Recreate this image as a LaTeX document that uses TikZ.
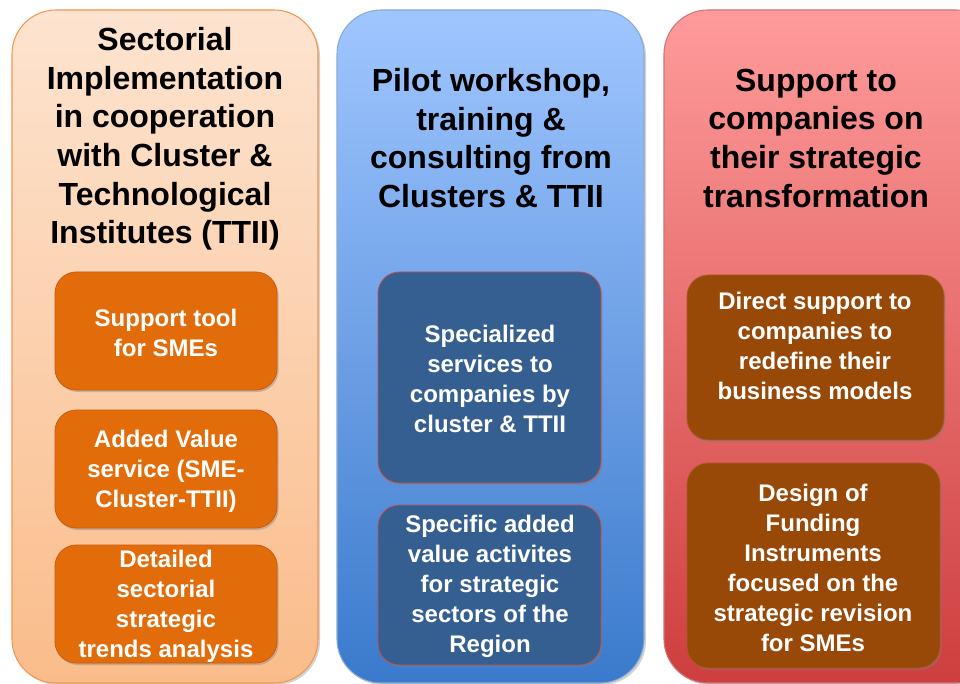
\documentclass[tikz,border=0pt]{standalone}
\usepackage{fontspec}
\setmainfont{Liberation Sans}
\usetikzlibrary{shadows}
\definecolor{lTop}{RGB}{253,228,208}
\definecolor{lBot}{RGB}{250,188,138}
\definecolor{lEdge}{RGB}{240,150,80}
\definecolor{mTop}{RGB}{160,198,255}
\definecolor{mBot}{RGB}{58,122,204}
\definecolor{mEdge}{RGB}{140,170,210}
\definecolor{rTop}{RGB}{255,155,155}
\definecolor{rBot}{RGB}{206,62,62}
\definecolor{rEdge}{RGB}{200,120,120}
\definecolor{lIn}{RGB}{227,108,10}
\definecolor{lInEdge}{RGB}{200,90,20}
\definecolor{mIn}{RGB}{54,95,145}
\definecolor{mInEdge}{RGB}{192,80,77}
\definecolor{rIn}{RGB}{152,72,7}
\definecolor{rInEdge}{RGB}{170,90,40}
\tikzset{
  bigbox/.style={rounded corners=33pt, line width=0.8pt, drop shadow={shadow xshift=1.5pt, shadow yshift=-1.5pt, opacity=0.35}},
  inbox/.style={rounded corners=16pt, line width=0.6pt, drop shadow={shadow xshift=1.2pt, shadow yshift=-1.5pt, opacity=0.4}},
  title/.style={align=center, font=\bfseries\fontsize{24}{29}\selectfont, text=black},
  intext/.style={align=center, font=\bfseries\fontsize{18}{22.5}\selectfont, text=white},
}
\begin{document}
\begin{tikzpicture}[x=0.75pt,y=-0.75pt]
\useasboundingbox (0,0) rectangle (960,684);
\clip (0,0) rectangle (960,684);
\fill[white] (0,0) rectangle (960,684);
% big columns
\draw[bigbox, draw=lEdge, top color=lTop, bottom color=lBot] (12,10) rectangle (318,683);
\draw[bigbox, draw=mEdge, top color=mTop, bottom color=mBot] (337,10) rectangle (644,683);
\draw[bigbox, draw=rEdge, top color=rTop, bottom color=rBot] (664,10) rectangle (1000,683);
% titles
\node[title] (t1) at (165,139) {Sectorial\\Implementation\\in cooperation\\with Cluster \&\\Technological\\Institutes (TTII)};
\node[title] (t2) at (491,138) {Pilot workshop,\\training \&\\consulting from\\Clusters \& TTII};
\node[title] (t3) at (816,138) {Support to\\companies on\\their strategic\\transformation};
% left inner boxes
\draw[inbox, draw=lInEdge, fill=lIn] (55,272) rectangle (277,390);
\draw[inbox, draw=lInEdge, fill=lIn] (55,410) rectangle (277,528);
\draw[inbox, draw=lInEdge, fill=lIn] (55,545) rectangle (277,663);
\node[intext] (a1) at (166,333) {Support tool\\for SMEs};
\node[intext] (a2) at (166,471) {Added Value\\service (SME-\\Cluster-TTII)};
\node[intext] (a3) at (166,606) {Detailed\\sectorial\\strategic\\trends analysis};
% middle inner boxes
\draw[inbox, draw=mInEdge, fill=mIn] (378,272) rectangle (601,483);
\draw[inbox, draw=mInEdge, fill=mIn] (378,505) rectangle (601,665);
\node[intext] (b1) at (490,379) {Specialized\\services to\\companies by\\cluster \& TTII};
\node[intext] (b2) at (490,586) {Specific added\\value activites\\for strategic\\sectors of the\\Region};
% right inner boxes
\draw[inbox, draw=rInEdge, fill=rIn] (687,275) rectangle (944,440);
\draw[inbox, draw=rInEdge, fill=rIn] (687,463) rectangle (940,668);
\node[intext] (c1) at (815,346) {Direct support to\\companies to\\redefine their\\business models};
\node[intext] (c2) at (813,568) {Design of\\Funding\\Instruments\\focused on the\\strategic revision\\for SMEs};
\end{tikzpicture}
\end{document}
